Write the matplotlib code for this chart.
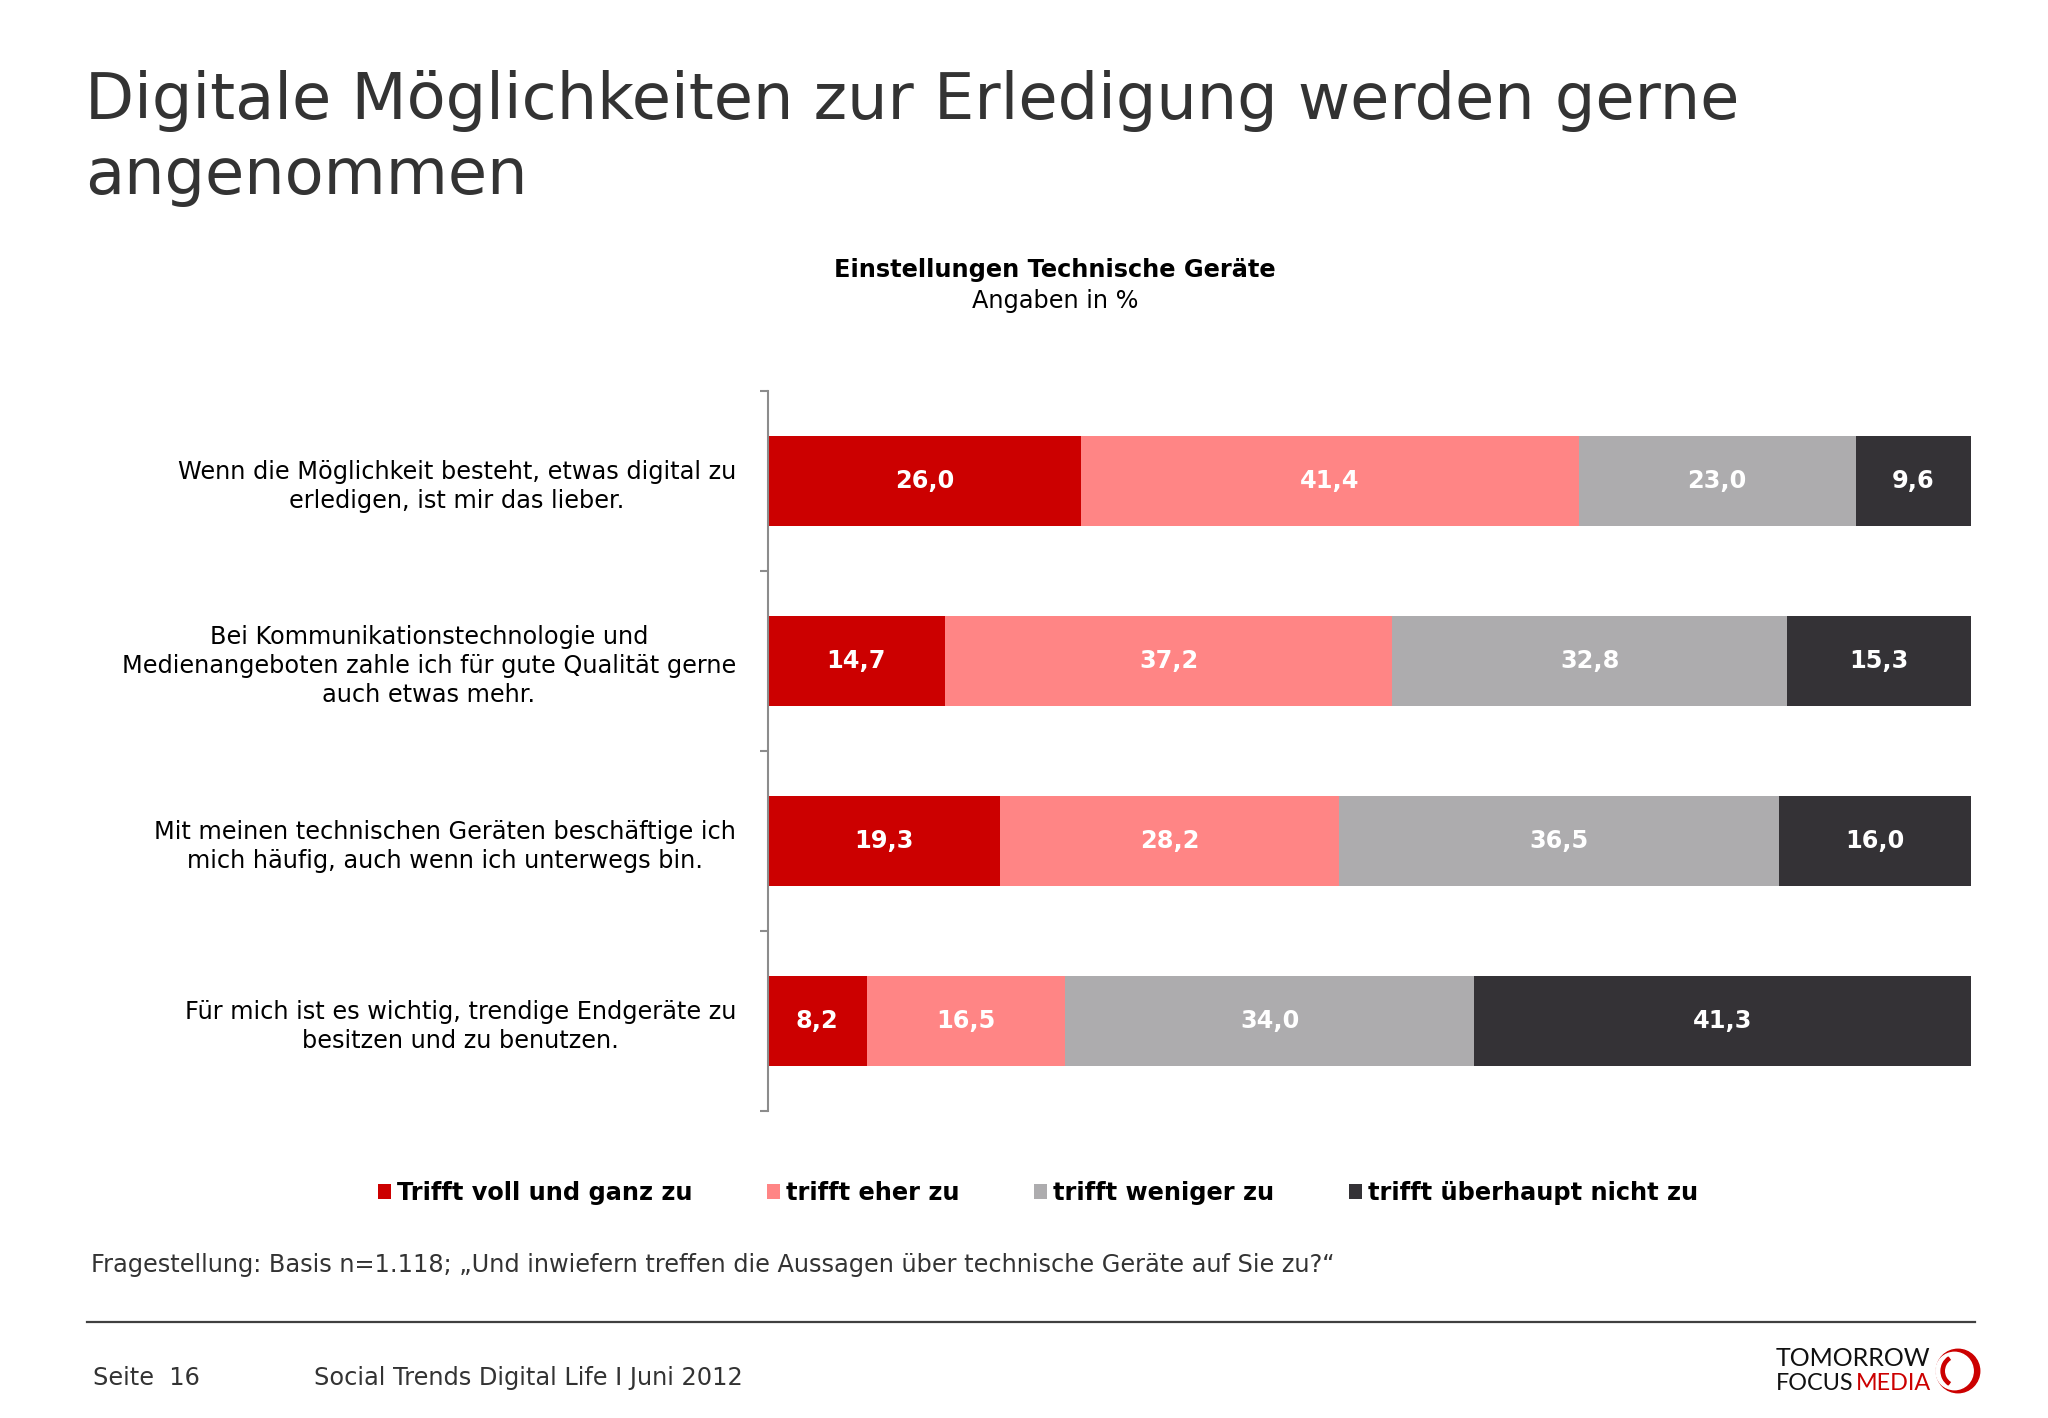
import matplotlib.pyplot as plt
from matplotlib.patches import Patch, Wedge, Circle
from matplotlib.lines import Line2D

plt.rcParams["font.family"] = ["DejaVu Sans"]

# --- data ---
aussagen = [
    "Wenn die Möglichkeit besteht, etwas digital zu\nerledigen, ist mir das lieber.",
    "Bei Kommunikationstechnologie und\nMedienangeboten zahle ich für gute Qualität gerne\nauch etwas mehr.",
    "Mit meinen technischen Geräten beschäftige ich\nmich häufig, auch wenn ich unterwegs bin.",
    "Für mich ist es wichtig, trendige Endgeräte zu\nbesitzen und zu benutzen.",
]
antworten = ["Trifft voll und ganz zu", "trifft eher zu", "trifft weniger zu",
             "trifft überhaupt nicht zu"]
voll_und_ganz = [26.0, 14.7, 19.3, 8.2]
eher = [41.4, 37.2, 28.2, 16.5]
weniger = [23.0, 32.8, 36.5, 34.0]
ueberhaupt_nicht = [9.6, 15.3, 16.0, 41.3]
werte = [voll_und_ganz, eher, weniger, ueberhaupt_nicht]
farben = ["#cc0000", "#ff8585", "#adacae", "#343236"]

W, H = 2048, 1418
fx = lambda x: x / W          # pixel -> figure fraction
fy = lambda y: 1 - y / H
FS = 17.3                     # grundschriftgröße

fig = plt.figure(figsize=(W / 100, H / 100), dpi=100)

# titel
fig.text(fx(85), fy(119), "Digitale Möglichkeiten zur Erledigung werden gerne",
         fontsize=46, color="#333333", va="baseline")
fig.text(fx(85), fy(194), "angenommen", fontsize=46, color="#333333", va="baseline")

fig.text(fx(1055), fy(270), "Einstellungen Technische Geräte", fontsize=FS,
         fontweight="bold", ha="center", va="center", color="black")
fig.text(fx(1055), fy(301), "Angaben in %", fontsize=FS, ha="center", va="center",
         color="black")

# --- balken ---
ax = fig.add_axes([fx(768), fy(1111), fx(1971) - fx(768), (1111 - 391) / H])
y = range(len(aussagen))
links = [0.0] * len(aussagen)
for serie, farbe, name in zip(werte, farben, antworten):
    bars = ax.barh(y, serie, left=links, height=0.5, color=farbe, label=name)
    ax.bar_label(bars, labels=[f"{v:.1f}".replace(".", ",") for v in serie],
                 label_type="center", color="white", fontweight="bold", fontsize=FS)
    links = [l + v for l, v in zip(links, serie)]

ax.set_xlim(0, 100)
ax.set_ylim(3.5, -0.5)
for s in ["top", "right", "bottom"]:
    ax.spines[s].set_visible(False)
ax.spines["left"].set_color("#8c8c8c")
ax.spines["left"].set_linewidth(1.5)
ax.set_xticks([])
ax.set_yticks(list(y))
ax.set_yticklabels(aussagen, fontsize=FS, color="black")
for t in ax.get_yticklabels():
    t.set_multialignment("center")
    t.set_linespacing(1.27)
ax.tick_params(axis="y", which="major", length=0, pad=23)
ax.set_yticks([-0.5, 0.5, 1.5, 2.5, 3.5], minor=True)
ax.tick_params(axis="y", which="minor", length=6, width=1.5, color="#8c8c8c", direction="out")

# legende
handles = [Patch(facecolor=f, edgecolor="none", label=n) for f, n in zip(farben, antworten)]
leg = fig.legend(handles=handles, loc="center", bbox_to_anchor=(fx(1038), fy(1193)),
                 ncol=4, frameon=False, handlelength=0.55, handleheight=0.55,
                 handletextpad=0.25, columnspacing=3.1,
                 prop={"weight": "bold", "size": FS})

fig.text(fx(91), fy(1265),
         "Fragestellung: Basis n=1.118; „Und inwiefern treffen die Aussagen über technische Geräte auf Sie zu?“",
         fontsize=FS, color="#333333", va="center")

# fußzeile
fig.add_artist(Line2D([fx(87), fx(1975)], [fy(1322), fy(1322)], color="#404040", lw=1.6))
fig.text(fx(93), fy(1378), "Seite  16", fontsize=FS, color="#333333", va="center")
fig.text(fx(314), fy(1378), "Social Trends Digital Life I Juni 2012", fontsize=FS,
         color="#333333", va="center")

# logo
fig.text(fx(1776), fy(1359), "TOMORROW", fontsize=18, color="#111111", va="center",
         family="Lato")
t_focus = fig.text(fx(1776), fy(1384), "FOCUS", fontsize=16.8, color="#111111",
                   va="center", family="Lato")
t_media = fig.text(fx(1850), fy(1384), "MEDIA", fontsize=16.8, color="#cc0000",
                   va="center", ha="left", family="Lato")
fig.canvas.draw()
bb = t_focus.get_window_extent()
t_media.set_position((fx(bb.x1 + 2), fy(1384)))

logo_ax = fig.add_axes([fx(1930), fy(1396), fx(56), 50 / H])
logo_ax.set_xlim(-1.15, 1.15)
logo_ax.set_ylim(-1.15, 1.15)
logo_ax.set_aspect("equal")
logo_ax.axis("off")
logo_ax.add_patch(Circle((0, 0), 1.0, color="#cc0000"))
logo_ax.add_patch(Circle((-0.16, 0), 0.86, color="white"))
logo_ax.add_patch(Wedge((0, 0), 0.78, 125, 235, width=0.15, color="#cc0000"))

fig.savefig("out.png", dpi=100, facecolor="white")
